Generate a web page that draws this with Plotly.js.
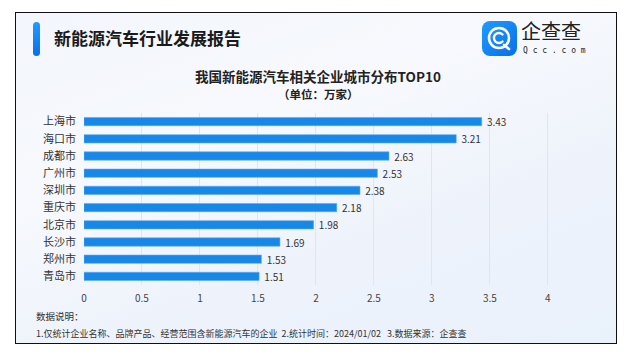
<!DOCTYPE html>
<html><head><meta charset="utf-8">
<script src="https://cdn.plot.ly/plotly-3.0.1.min.js"></script>
<style>
html,body{margin:0;padding:0;background:#fff;}
#wrap{position:relative;width:626px;height:353px;overflow:hidden;background:#fff;}
#frame{position:absolute;left:15px;top:12px;width:600px;height:330px;border:1px solid #111;
 background:linear-gradient(160deg,#f3f6fc 0%,#f7f9fd 35%,#eef3fb 65%,#e9f1fb 100%);}
#chart{position:absolute;left:0;top:0;width:626px;height:353px;}
#logo{position:absolute;left:482px;top:21px;}
#accent{position:absolute;left:33px;top:22px;}
</style></head>
<body>
<div id="wrap">
<div id="frame"></div>
<svg id="accent" width="7" height="34" viewBox="0 0 7 34">
 <defs><linearGradient id="ag" x1="0" y1="0" x2="0" y2="1"><stop offset="0" stop-color="#1f9bff"/><stop offset="1" stop-color="#0b6fe6"/></linearGradient></defs>
 <rect x="0" y="0" width="7" height="34" rx="3.5" fill="url(#ag)"/>
</svg>
<svg id="logo" width="35" height="35" viewBox="0 0 35 35">
 <defs><linearGradient id="lg" x1="0" y1="0" x2="1" y2="1"><stop offset="0" stop-color="#1f9bff"/><stop offset="1" stop-color="#0a6fe8"/></linearGradient></defs>
 <rect x="0" y="0" width="35" height="35" rx="8" fill="url(#lg)"/>
 <circle cx="17" cy="17" r="10" fill="none" stroke="#fff" stroke-width="2.6"/>
 <path d="M22 24 L27 28" stroke="#fff" stroke-width="2.6" stroke-linecap="round"/>
 <path d="M20.5 13.5 A5 5 0 1 0 20.5 20.5" fill="none" stroke="#fff" stroke-width="2.4" stroke-linecap="round"/>
</svg>
<div id="chart"></div>
</div>
<script>
const cities = ["上海市","海口市","成都市","广州市","深圳市","重庆市","北京市","长沙市","郑州市","青岛市"];
const counts = [3.43,3.21,2.63,2.53,2.38,2.18,1.98,1.69,1.53,1.51];
const xTicks = [0,0.5,1,1.5,2,2.5,3,3.5,4];

const headerTitle = "新能源汽车行业发展报告";
const chartTitle = "我国新能源汽车相关企业城市分布TOP10";
const unitText = "（单位：万家）";
const noteHead = "数据说明：";
const noteBody = "1.仅统计企业名称、品牌产品、经营范围含新能源汽车的企业&nbsp;&nbsp;2.统计时间：2024/01/02&nbsp;&nbsp;&nbsp;3.数据来源：企查查";

const W=626,H=353,L=84,R=26,T=113,B=68;
const pw=W-L-R, ph=H-T-B;
const px=x=>(x-L)/pw, py=y=>(H-B-y)/ph;
const FONT='"Noto Sans CJK SC","Noto Sans",sans-serif';

const trace={
 type:'bar',orientation:'h',y:cities,x:counts,
 marker:{color:'#1787e8',line:{color:'#5aaaf0',width:0.6}},
 texttemplate:' %{x:.2f}',textposition:'outside',constraintext:'none',
 textfont:{family:FONT,size:10,color:'#333'},cliponaxis:false,
 hoverinfo:'skip'
};
const layout={
 width:W,height:H,margin:{l:L,r:R,t:T,b:B,pad:0},
 paper_bgcolor:'rgba(0,0,0,0)',plot_bgcolor:'rgba(0,0,0,0)',
 bargap:0.52,showlegend:false,
 font:{family:FONT,color:'#333'},
 title:{text:'<b>'+chartTitle+'</b>',x:318/W,xref:'container',xanchor:'center',
   y:1-77/H,yref:'container',yanchor:'middle',font:{family:FONT,size:13.5,color:'#222'}},
 xaxis:{range:[0,4.45],tickvals:xTicks,ticktext:xTicks.map(String),showgrid:true,gridcolor:'#e2e5ea',gridwidth:1,
   zeroline:false,showline:false,ticks:'',ticklabelstandoff:6,tickfont:{family:FONT,size:10,color:'#444'},fixedrange:true},
 yaxis:{autorange:'reversed',showgrid:false,zeroline:false,showline:false,ticks:'',ticklabelstandoff:7,
   tickfont:{family:FONT,size:11,color:'#333'},fixedrange:true},
 annotations:[
  {xref:'paper',yref:'paper',x:px(318),y:py(94),text:'<b>'+unitText+'</b>',showarrow:false,xanchor:'center',yanchor:'middle',font:{family:FONT,size:11.5,color:'#222'}},
  {xref:'paper',yref:'paper',x:px(52),y:py(37),text:'<b>'+headerTitle+'</b>',showarrow:false,xanchor:'left',yanchor:'middle',font:{family:FONT,size:17,color:'#1a1a1a'}},
  {xref:'paper',yref:'paper',x:px(519),y:py(30),text:'企查查',showarrow:false,xanchor:'left',yanchor:'middle',font:{family:FONT,size:20,color:'#222'}},
  {xref:'paper',yref:'paper',x:px(554),y:py(50),text:'Q c c . c o m',showarrow:false,xanchor:'center',yanchor:'middle',font:{family:'DejaVu Sans Mono, monospace',size:8,color:'#222'}},
  {xref:'paper',yref:'paper',x:px(34),y:py(316),text:noteHead,showarrow:false,xanchor:'left',yanchor:'middle',font:{family:FONT,size:9.5,color:'#333'}},
  {xref:'paper',yref:'paper',x:px(34),y:py(333),text:noteBody,showarrow:false,xanchor:'left',yanchor:'middle',font:{family:FONT,size:9,color:'#333'}}
 ]
};
Plotly.newPlot('chart',[trace],layout,{displayModeBar:false,staticPlot:true});
</script>
</body></html>
